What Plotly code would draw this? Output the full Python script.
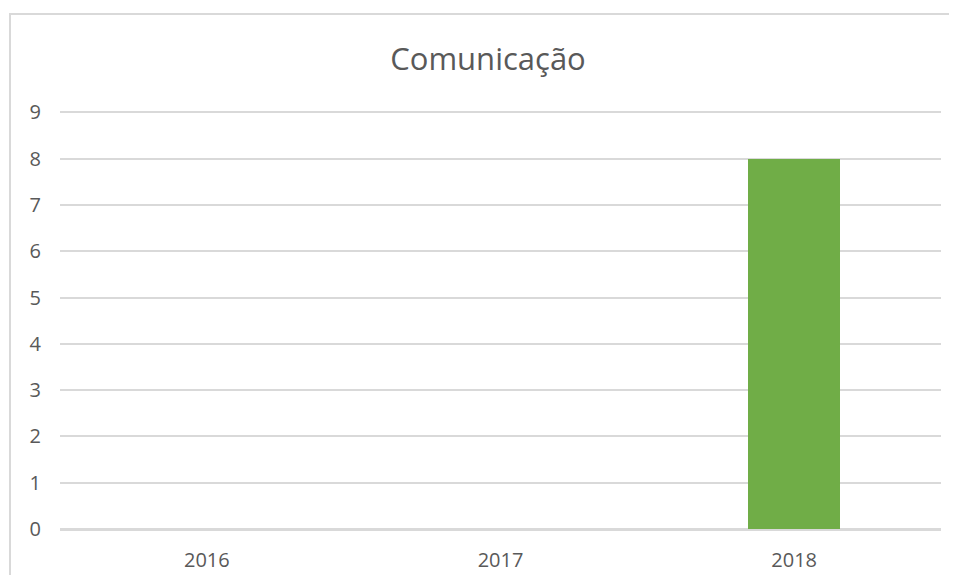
import plotly.graph_objects as go

years = ["2016", "2017", "2018"]
values = [0, 0, 8]
title_text = "Comunicação"

# page body has an 8px margin; work in reference pixels and subtract it
OFF = 8
W, H = 957 - 2 * OFF, 583 - 2 * OFF
YMAX = 9.05
L, R = 60 - OFF, 941 - OFF
B = 529 - OFF
unit = (529 - 112) / 9.0
T = B - YMAX * unit
pw, ph = R - L, B - T

fig = go.Figure(go.Bar(x=years, y=values, marker=dict(color="#70ad47", line=dict(width=0)), width=0.313))

def px_to_paper_x(px):
    return (px - OFF - L) / pw

def px_to_paper_y(py):
    return (B - (py - OFF)) / ph

border = dict(color="#d9d9d9", width=2)
fig.update_layout(
    width=W, height=H,
    margin=dict(l=L, r=W - R, t=T, b=H - B, pad=0, autoexpand=False),
    paper_bgcolor="white", plot_bgcolor="white",
    font=dict(family="Open Sans, sans-serif", color="#595959", size=20),
    title=dict(text=title_text, x=(488 - OFF) / W, xanchor="center", y=1 - (59 - OFF) / H, yanchor="middle",
               yref="container", xref="container", font=dict(size=31, color="#595959")),
    showlegend=False,
    bargap=0,
    xaxis=dict(showgrid=False, showline=True, linecolor="#d9d9d9", linewidth=2, automargin=False,
               ticks="", ticklabelstandoff=12, tickfont=dict(size=20, color="#595959")),
    yaxis=dict(range=[0, YMAX], tickvals=list(range(10)), showgrid=True, gridcolor="#d9d9d9", gridwidth=2,
               zeroline=True, zerolinecolor="#d9d9d9", zerolinewidth=2, automargin=False,
               ticks="", ticklabelstandoff=18, tickfont=dict(size=20, color="#595959")),
    shapes=[
        dict(type="line", xref="paper", yref="paper",
             x0=px_to_paper_x(9), x1=px_to_paper_x(1100),
             y0=px_to_paper_y(13.5), y1=px_to_paper_y(13.5), line=border, layer="below"),
        dict(type="line", xref="paper", yref="paper",
             x0=px_to_paper_x(10), x1=px_to_paper_x(10),
             y0=px_to_paper_y(13), y1=px_to_paper_y(700), line=border, layer="below"),
    ],
)

fig.write_html("out.html")
